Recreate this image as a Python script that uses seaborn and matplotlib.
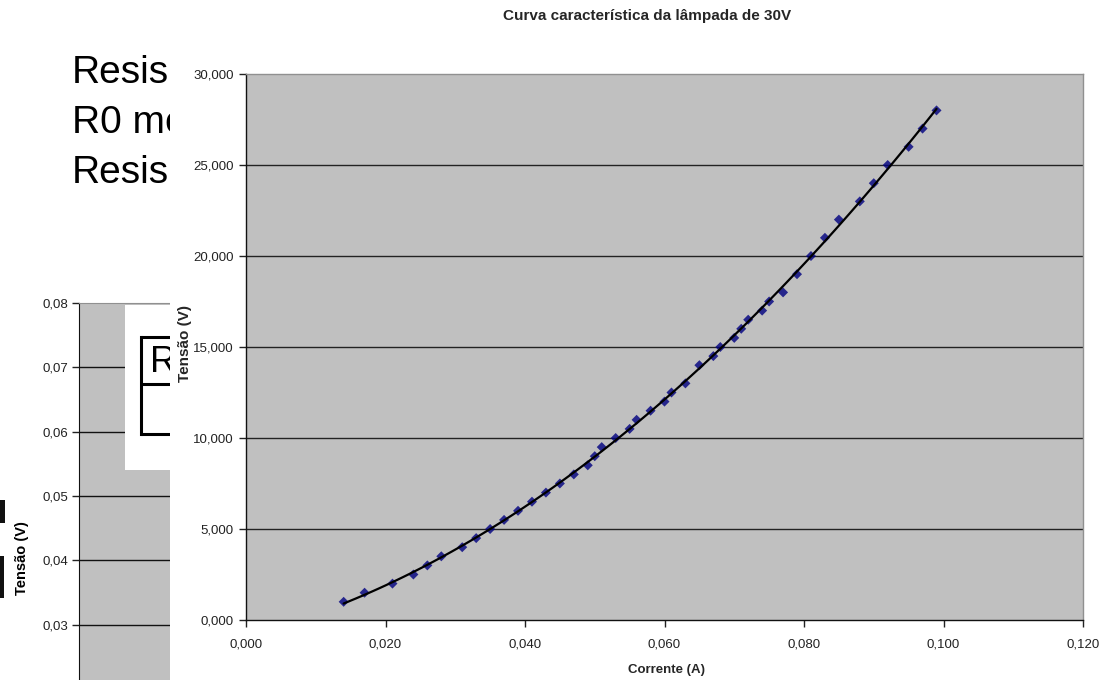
import numpy as np
import pandas as pd
import matplotlib
matplotlib.use("Agg")
import matplotlib.pyplot as plt
from matplotlib.patches import Rectangle, Wedge
from matplotlib.ticker import FuncFormatter
import seaborn as sns

# ---------------- data ----------------
corrente = [0.014, 0.017, 0.021, 0.024, 0.026, 0.028, 0.031, 0.033, 0.035, 0.037,
            0.039, 0.041, 0.043, 0.045, 0.047, 0.049, 0.050, 0.051, 0.053, 0.055,
            0.056, 0.058, 0.060, 0.061, 0.063, 0.065, 0.067, 0.068, 0.070, 0.071,
            0.072, 0.074, 0.075, 0.077, 0.079, 0.081, 0.083, 0.085, 0.088, 0.090,
            0.092, 0.095, 0.097, 0.099]
tensao = [1.0, 1.5, 2.0, 2.5, 3.0, 3.5, 4.0, 4.5, 5.0, 5.5,
          6.0, 6.5, 7.0, 7.5, 8.0, 8.5, 9.0, 9.5, 10.0, 10.5,
          11.0, 11.5, 12.0, 12.5, 13.0, 14.0, 14.5, 15.0, 15.5, 16.0,
          16.5, 17.0, 17.5, 18.0, 19.0, 20.0, 21.0, 22.0, 23.0, 24.0,
          25.0, 26.0, 27.0, 28.0]
x_ticks = [0.000, 0.020, 0.040, 0.060, 0.080, 0.100, 0.120]
y_ticks = [0, 5, 10, 15, 20, 25, 30]
bg_y_ticks = [0.03, 0.04, 0.05, 0.06, 0.07, 0.08]
bg_texts = ["Resis", "R0 me", "Resis"]

title = "Curva característica da lâmpada de 30V"
xlabel = "Corrente (A)"
ylabel = "Tensão (V)"

df = pd.DataFrame({"Corrente": corrente, "Tensao": tensao})

# ---------------- figure ----------------
sns.set_style("white")
plt.rcParams["font.family"] = ["Liberation Sans", "DejaVu Sans"]

W, H = 1113, 680
fig = plt.figure(figsize=(W / 100, H / 100), dpi=100)
fig.patch.set_facecolor("white")


def fr(l, t, r, b):
    return [l / W, 1 - b / H, (r - l) / W, (b - t) / H]


def comma(fmt):
    return FuncFormatter(lambda v, p: fmt.format(v).replace(".", ","))


# background chart (partly hidden)
bg = fig.add_axes(fr(79, 303, 600, 689), zorder=0)
bg.set_facecolor("#C0C0C0")
bg.set_ylim(0.02, 0.08)
bg.set_xlim(0, 1)
bg.set_yticks(bg_y_ticks)
bg.set_xticks([])
bg.yaxis.set_major_formatter(comma("{:.2f}"))
bg.tick_params(axis="y", direction="out", length=5, width=1, color="#222222",
               labelsize=9.5, labelcolor="#222222", pad=3, left=True)
for yv in bg_y_ticks[:-1]:
    bg.axhline(yv, color="#111111", lw=1)
for s in ["right", "bottom"]:
    bg.spines[s].set_visible(False)
bg.spines["left"].set_color("#111111")
bg.spines["top"].set_color("#909090")

# decoration layer (full figure, pixel coordinates)
deco = fig.add_axes([0, 0, 1, 1], zorder=1)
deco.set_xlim(0, W)
deco.set_ylim(H, 0)
deco.axis("off")
deco.patch.set_visible(False)

deco.add_patch(Rectangle((125, 305), 200, 165, facecolor="white", edgecolor="none", zorder=1))
deco.plot([141, 141], [337, 434], color="black", lw=2.2, zorder=2, solid_capstyle="projecting")
for yy in [337, 384, 434]:
    deco.plot([141, 300], [yy, yy], color="black", lw=2.2, zorder=2)
deco.text(150, 372, "R", fontsize=26, color="black", va="baseline", ha="left", zorder=3)

for i, t in enumerate(bg_texts):
    deco.text(72, 83 + 50 * i, t, fontsize=28, color="black", va="baseline",
              ha="left", zorder=3)

# slivers of large letters at the left edge
deco.add_patch(Rectangle((-10, 500), 14.5, 23, facecolor="#111111", edgecolor="none", zorder=3))
deco.add_patch(Wedge((-6, 501), 10.5, 0, 90, width=9, facecolor="#111111",
                     edgecolor="none", zorder=3))
deco.add_patch(Rectangle((-10, 556), 14, 42, facecolor="#111111", edgecolor="none", zorder=3))

deco.text(22, 558, ylabel, rotation=90, fontsize=10.5, fontweight="bold",
          ha="center", va="center", color="black", zorder=3)

# white area of the main chart
deco.add_patch(Rectangle((170, -5), W, H + 10, facecolor="white", edgecolor="none", zorder=5))

# ---------------- main chart ----------------
ax = fig.add_axes(fr(246, 74, 1083, 620), zorder=3)
ax.set_facecolor("#C0C0C0")
sns.regplot(data=df, x="Corrente", y="Tensao", order=2, ci=None, truncate=True,
            ax=ax, marker="D",
            scatter_kws=dict(s=26, color="#000080", edgecolors="none", zorder=3),
            line_kws=dict(color="black", lw=1.6, zorder=4))
ax.set_xlim(0, 0.12)
ax.set_ylim(0, 30)
ax.set_xticks(x_ticks)
ax.set_yticks(y_ticks)
ax.xaxis.set_major_formatter(comma("{:.3f}"))
ax.yaxis.set_major_formatter(comma("{:.3f}"))
ax.tick_params(axis="both", direction="out", length=5, width=1, color="#222222",
               labelsize=9.5, labelcolor="#222222", bottom=True, left=True)
ax.tick_params(axis="x", pad=8)
ax.tick_params(axis="y", pad=4)
for yv in y_ticks[1:-1]:
    ax.axhline(yv, color="#222222", lw=1, zorder=1)
ax.spines["left"].set_color("#111111")
ax.spines["bottom"].set_color("#111111")
ax.spines["top"].set_color("#909090")
ax.spines["right"].set_color("#909090")
for s in ax.spines.values():
    s.set_linewidth(1)
ax.set_xlabel("")
ax.set_ylabel("")

fig.text(647 / W, 1 - 16 / H, title, fontsize=11, fontweight="bold",
         ha="center", va="center", zorder=6)
fig.text(666 / W, 1 - 670 / H, xlabel, fontsize=9.5, fontweight="bold",
         ha="center", va="center", zorder=6)
fig.text(185 / W, 1 - 343 / H, ylabel, fontsize=11, fontweight="bold",
         rotation=90, ha="center", va="center", zorder=6)

fig.savefig("out.png", dpi=100)
